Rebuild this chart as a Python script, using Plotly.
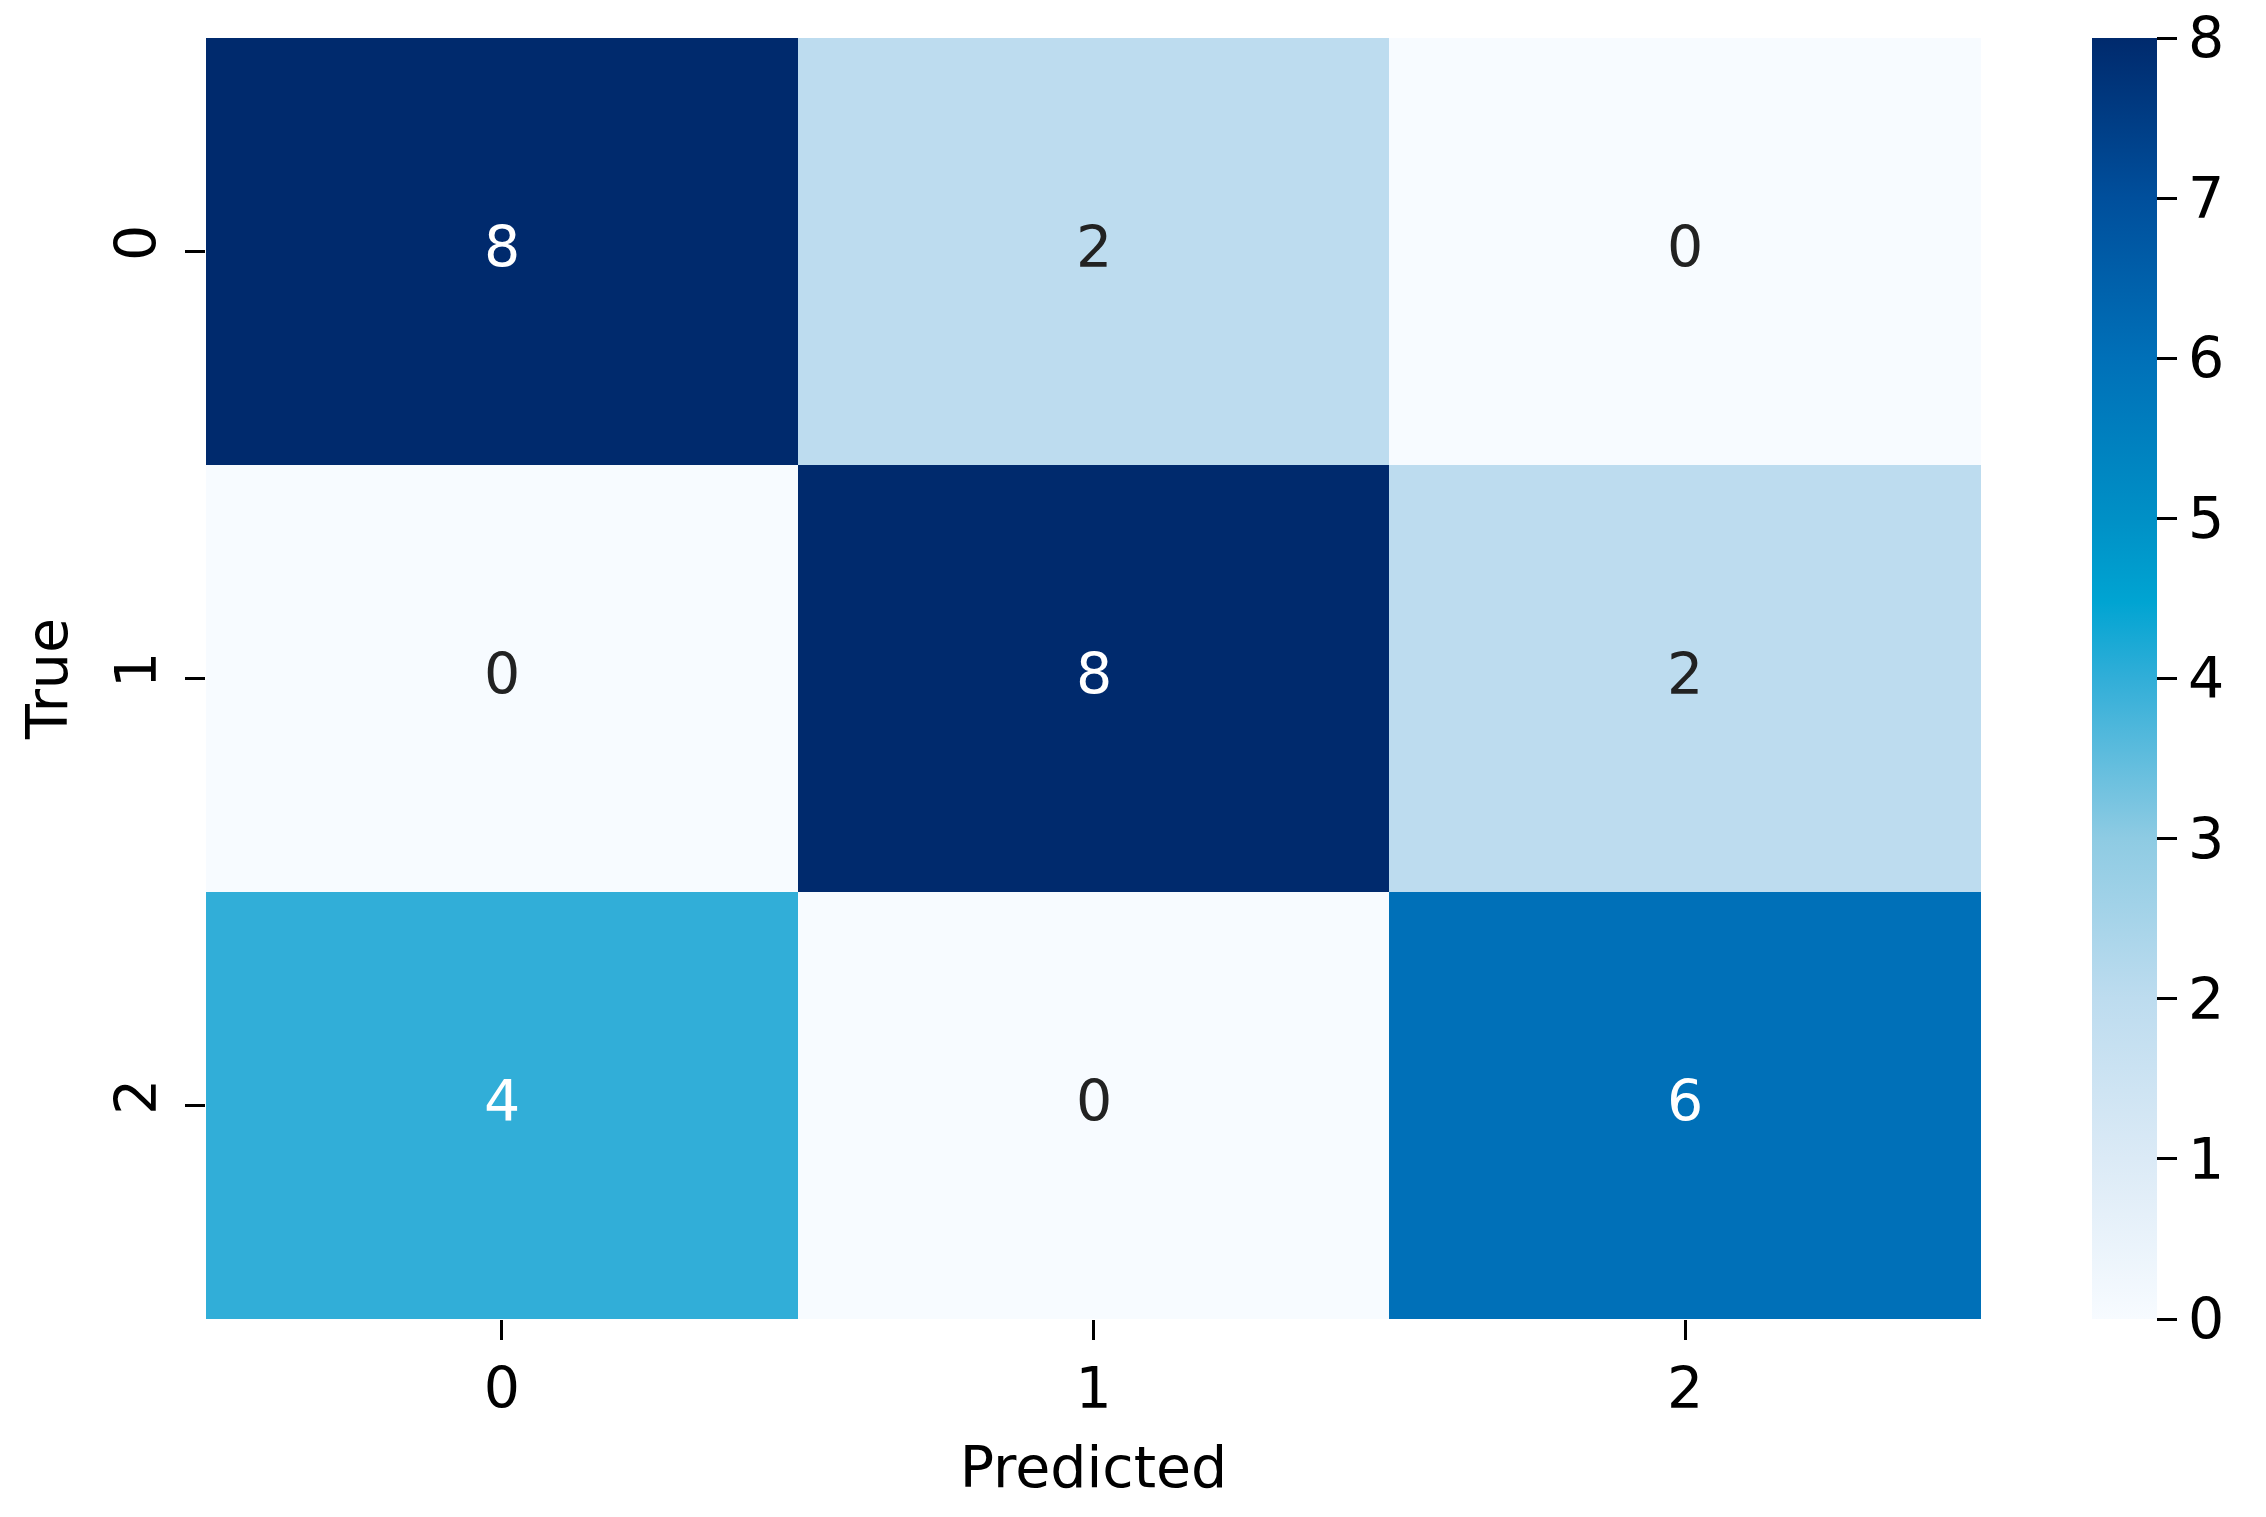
import plotly.graph_objects as go

pred_labels = ["0", "1", "2"]
true_labels = ["0", "1", "2"]
row0 = [8, 2, 0]
row1 = [0, 8, 2]
row2 = [4, 0, 6]
cbar_ticks = [0, 1, 2, 3, 4, 5, 6, 7, 8]

z = [row0, row1, row2]

colorscale = [
    [0.0, "#f7fbff"],
    [0.125, "#dbeaf6"],
    [0.25, "#bddcef"],
    [0.375, "#8ecbe3"],
    [0.5, "#31aed8"],
    [0.56, "#00a4d2"],
    [0.625, "#0090c6"],
    [0.75, "#0070b8"],
    [0.875, "#004f9c"],
    [1.0, "#002a6d"],
]

FONT = "DejaVu Sans"
FS = 57

fig = go.Figure()
fig.add_trace(go.Heatmap(
    z=z, x=pred_labels, y=true_labels,
    colorscale=colorscale, zmin=0, zmax=8,
    xgap=0, ygap=0,
    colorbar=dict(
        x=(2084 - 198) / 1775, xanchor="left", xref="paper",
        y=0.5, yanchor="middle", len=1, lenmode="fraction",
        thickness=65, thicknessmode="pixels",
        outlinewidth=0, xpad=0, ypad=0,
        tickvals=cbar_ticks, ticks="outside", ticklen=20, tickwidth=3,
        tickcolor="black", ticklabeloverflow="allow",
        tickfont=dict(family=FONT, size=FS, color="black"),
    ),
    hoverinfo="skip",
))

for i, row in enumerate(z):
    for j, v in enumerate(row):
        fig.add_annotation(
            x=pred_labels[j], y=true_labels[i], text=str(v), showarrow=False,
            yshift=5,
            font=dict(family=FONT, size=FS, color="white" if v > 3 else "#222222"),
        )

fig.update_layout(
    width=2266, height=1517,
    margin=dict(l=198, r=293, t=30, b=206),
    paper_bgcolor="white", plot_bgcolor="white",
    font=dict(family=FONT, size=FS, color="black"),
    showlegend=False,
)
fig.update_xaxes(
    title=dict(text="Predicted", font=dict(family=FONT, size=FS), standoff=26),
    ticks="outside", ticklen=20, tickwidth=3, tickcolor="black",
    tickfont=dict(family=FONT, size=FS), showgrid=False, zeroline=False,
    showline=False, ticklabelstandoff=0,
)
fig.update_yaxes(
    title=dict(text="True", font=dict(family=FONT, size=FS), standoff=17),
    ticks="outside", ticklen=20, tickwidth=3, tickcolor="black",
    tickfont=dict(family=FONT, size=FS), tickangle=-90,
    autorange="reversed", showgrid=False, zeroline=False, showline=False,
    ticklabelstandoff=6,
)

fig.write_html("out.html")
